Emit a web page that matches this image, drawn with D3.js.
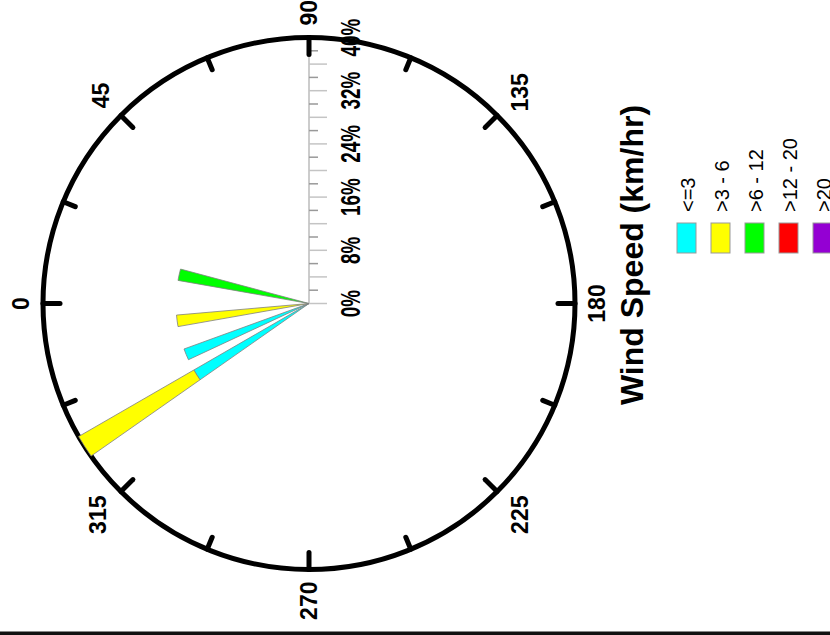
<!DOCTYPE html>
<html>
<head>
<meta charset="utf-8">
<script src="https://cdn.jsdelivr.net/npm/d3@7"></script>
<style>
  html, body { margin: 0; padding: 0; background: #fff; }
  svg { display: block; }
  text { font-family: "Liberation Sans", Arial, sans-serif; }
</style>
</head>
<body>
<svg id="chart" width="830" height="635"></svg>
<script>
// wind direction bins (degrees, bin centre) and share of observations (%) per speed class
const directions = [12.5, 352.5, 337.5, 327.5];
const binWidth = 5;
const speedClasses = ["<=3", ">3 - 6", ">6 - 12", ">12 - 20", ">20"];
const pctUpTo3 = [0, 0, 20, 20];
const pct3to6 = [0, 20, 0, 20];
const pct6to12 = [20, 0, 0, 0];
const pct12to20 = [0, 0, 0, 0];
const pctOver20 = [0, 0, 0, 0];
const radialTicks = [0, 8, 16, 24, 32, 40];
const compassLabels = [0, 45, 90, 135, 180, 225, 270, 315];

const palette = ["#00ffff", "#ffff00", "#00ff00", "#ff0000", "#9400d3"];

const W = 830, H = 635;
const R = 266;
const cx = 331.5, cy = 309; // centre in the un-rotated frame

const svg = d3.select("#chart");

// the whole figure is drawn upright and then turned a quarter turn anticlockwise
const frame = svg.append("g").attr("transform", "translate(0," + H + ") rotate(-90)");
const g = frame.append("g").attr("transform", "translate(" + cx + "," + cy + ")");

const r = d3.scaleLinear().domain([0, 40]).range([0, R]);
const color = d3.scaleOrdinal().domain(speedClasses).range(palette);
const rad = d => d * Math.PI / 180;

// rows for the stack
const series = [pctUpTo3, pct3to6, pct6to12, pct12to20, pctOver20];
const rows = directions.map((d, i) => {
  const o = { dir: d };
  speedClasses.forEach((k, j) => { o[k] = series[j][i]; });
  return o;
});
const stacked = d3.stack().keys(speedClasses)(rows);

// radial axis towards 90 degrees
const axis = g.append("g");
axis.append("line")
  .attr("x1", 0).attr("y1", 0)
  .attr("x2", R).attr("y2", 0)
  .attr("stroke", "#bbb")
  .attr("stroke-width", 1.5);

const minorTicks = d3.range(0, 40, 2);
axis.selectAll("line.tk")
  .data(minorTicks)
  .join("line")
  .attr("class", "tk")
  .attr("x1", d => r(d)).attr("x2", d => r(d))
  .attr("y1", 0)
  .attr("y2", d => d % 4 === 0 ? 18 : 9)
  .attr("stroke", d => d % 4 === 0 ? "#c4c4c4" : "#999")
  .attr("stroke-width", 1.5);

// tall, condensed bold labels along the axis
axis.selectAll("text.pct")
  .data(radialTicks)
  .join("text")
  .attr("class", "pct")
  .attr("transform", d => "translate(" + r(d) + ",50.5) scale(0.7,1)")
  .attr("text-anchor", "middle")
  .attr("font-size", 27)
  .attr("font-weight", "bold")
  .text(d => d + "%");

// outer ring and its ticks
g.append("circle")
  .attr("r", R)
  .attr("fill", "none")
  .attr("stroke", "#000")
  .attr("stroke-width", 5);

const ringTicks = d3.range(0, 360, 22.5);
g.selectAll("line.ring")
  .data(ringTicks)
  .join("line")
  .attr("class", "ring")
  .attr("x1", d => Math.sin(rad(d)) * R)
  .attr("y1", d => -Math.cos(rad(d)) * R)
  .attr("x2", d => Math.sin(rad(d)) * (R - (d % 45 === 0 ? 17 : 13)))
  .attr("y2", d => -Math.cos(rad(d)) * (R - (d % 45 === 0 ? 17 : 13)))
  .attr("stroke", "#000")
  .attr("stroke-width", 5)
  .attr("stroke-linecap", "round");

// petals
const arc = d3.arc()
  .innerRadius(d => r(d[0]))
  .outerRadius(d => r(d[1]))
  .startAngle(d => rad(d.data.dir - binWidth / 2))
  .endAngle(d => rad(d.data.dir + binWidth / 2));

g.selectAll("g.layer")
  .data(stacked)
  .join("g")
  .attr("class", "layer")
  .attr("fill", d => color(d.key))
  .selectAll("path")
  .data(d => d.filter(p => p[1] - p[0] > 0))
  .join("path")
  .attr("d", arc)
  .attr("stroke", "#808080")
  .attr("stroke-width", 0.8);

// compass labels, pushed out by half their box along the direction
const labels = g.selectAll("text.cmp")
  .data(compassLabels)
  .join("text")
  .attr("class", "cmp")
  .attr("text-anchor", "middle")
  .attr("dominant-baseline", "central")
  .attr("font-size", 23)
  .attr("font-weight", "bold")
  .text(d => d);

labels.each(function (d) {
  const bb = this.getBBox();
  const a = rad(d);
  const ext = Math.abs(Math.sin(a)) * bb.width / 2 + Math.abs(Math.cos(a)) * (bb.height - 6) / 2;
  const dist = R + 12 + ext;
  d3.select(this)
    .attr("x", Math.sin(a) * dist)
    .attr("y", -Math.cos(a) * dist);
});

// legend
const legend = frame.append("g");
legend.append("text")
  .attr("x", 380)
  .attr("y", 643)
  .attr("text-anchor", "middle")
  .attr("font-size", 32)
  .attr("font-weight", "bold")
  .text("Wind Speed (km/hr)");

const item = legend.selectAll("g.item")
  .data(speedClasses)
  .join("g")
  .attr("class", "item")
  .attr("transform", (d, i) => "translate(0," + (677 + 34 * i) + ")");

item.append("rect")
  .attr("x", 382)
  .attr("y", 0)
  .attr("width", 30)
  .attr("height", 19)
  .attr("fill", d => color(d))
  .attr("stroke", "#999")
  .attr("stroke-width", 1);

item.append("text")
  .attr("x", 423)
  .attr("y", 18)
  .attr("font-size", 20)
  .text(d => d);

// frame edge at the bottom of the picture
svg.append("rect")
  .attr("x", 0)
  .attr("y", 631.5)
  .attr("width", W)
  .attr("height", 3.5)
  .attr("fill", "#111");
</script>
</body>
</html>
